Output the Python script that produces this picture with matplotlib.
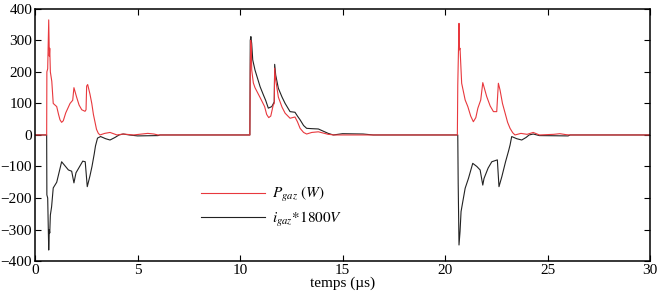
import numpy as np
import matplotlib.pyplot as plt

plt.rcParams['font.family'] = ['Liberation Serif', 'DejaVu Serif']
plt.rcParams['mathtext.fontset'] = 'stix'

# P_gaz (W) : temps (us), puissance
t_p = [0, 0.57, 0.58, 0.62, 0.67, 0.70, 0.72, 0.75, 0.82, 0.89, 1.06, 1.15, 1.22, 1.30, 1.38, 1.50,
       1.71, 1.84, 1.90, 2.03, 2.15, 2.28, 2.44, 2.49, 2.52, 2.57, 2.68, 2.77, 2.85, 2.93, 3.0,
       3.09, 3.17, 3.40, 3.66, 4.0, 4.3, 4.8, 5.5, 5.8, 6.0,
       10.48, 10.50, 10.52, 10.55, 10.57, 10.65, 10.73, 11.0, 11.2, 11.3, 11.4, 11.5, 11.62, 11.67,
       11.69, 11.74, 11.87, 12.05, 12.2, 12.44, 12.68, 12.8, 12.93, 13.1, 13.25, 13.5, 13.82, 14.3,
       14.6,
       20.6, 20.62, 20.68, 20.70, 20.73, 20.81, 20.98, 21.11, 21.25, 21.38, 21.5, 21.6, 21.74, 21.84,
       22.03, 22.2, 22.36, 22.52, 22.6, 22.68, 22.8, 22.93, 23.05, 23.17, 23.3, 23.41, 23.7, 24.0,
       24.3, 24.6, 25.3, 25.6, 25.9, 26.1, 30]
p_gaz = [0, 0, 200, 210, 365, 250, 275, 200, 170, 100, 90, 65, 48, 40, 45, 70,
         100, 110, 150, 120, 95, 80, 75, 80, 155, 160, 130, 100, 65, 40, 18,
         5, 0, 5, 8, 0, 3, 0, 5, 3, 0,
         0, 200, 300, 280, 206, 165, 150, 116, 90, 65, 55, 60, 95, 100,
         212, 175, 120, 88, 69, 53, 57, 42, 21, 8, 3, 8, 10, 2,
         0,
         0, 159, 354, 270, 275, 164, 111, 90, 60, 42, 55, 85, 111, 166,
         122, 92, 74, 74, 164, 143, 100, 69, 40, 21, 7, 0, 5, 2,
         8, 0, 2, 4, 1, 0, 0]

# i_gaz * 1800 V
t_i = [0, 0.57, 0.58, 0.62, 0.67, 0.70, 0.72, 0.75, 0.81, 0.89, 1.06, 1.30, 1.63, 1.79, 1.90, 2.0,
       2.33, 2.45, 2.55, 2.68, 2.78, 2.89, 2.95, 3.05, 3.2, 3.45, 3.66, 3.9, 4.1, 4.3, 4.6, 5.0,
       6.0, 6.1,
       10.48, 10.50, 10.53, 10.57, 10.62, 10.73, 10.98, 11.14, 11.25, 11.38, 11.55, 11.63, 11.67,
       11.69, 11.74, 11.87, 12.05, 12.2, 12.44, 12.68, 12.8, 12.93, 13.1, 13.25, 13.5, 13.82, 14.3,
       14.55, 15.0, 16.0, 16.5,
       20.62, 20.64, 20.68, 20.73, 20.78, 20.85, 20.98, 21.14, 21.35, 21.55, 21.71, 21.84, 21.9,
       22.1, 22.28, 22.55, 22.63, 22.77, 22.95, 23.1, 23.17, 23.25, 23.5, 23.74, 23.95, 24.1, 24.3,
       24.6, 26.0, 26.1, 30]
i_gaz = [0, 0, -190, -200, -365, -300, -311, -254, -228, -168, -150, -85, -111, -115, -152, -120,
         -83, -85, -164, -130, -100, -60, -35, -10, -5, -12, -16, -8, 0, 3, 0, -3,
         -2, 0,
         0, 300, 312, 290, 238, 206, 153, 127, 110, 85, 90, 100, 105,
         224, 190, 148, 120, 100, 74, 72, 60, 48, 30, 21, 20, 19, 5,
         0, 4, 3, 0,
         0, -153, -349, -307, -243, -217, -169, -138, -90, -100, -111, -159, -138,
         -105, -85, -79, -164, -132, -85, -50, -32, -5, -12, -16, -8, 0, 3,
         -2, -3, 0, 0]

fig = plt.figure(figsize=(6.6, 2.95), dpi=100)
ax = fig.add_axes([0.053, 0.115, 0.932, 0.855])

ax.plot(t_i, i_gaz, color='#222222', lw=0.8, label=r'$i_{gaz}\mathit{{*}1800V}$')
ax.plot(t_p, p_gaz, color='#e8383d', lw=0.8, label=r'$P_{gaz}\ (W)$')

ax.set_xlim(0, 30)
ax.set_ylim(-400, 400)
ax.set_xticks(np.arange(0, 31, 5))
ax.set_yticks(np.arange(-400, 401, 100))
ax.tick_params(direction='in', top=True, right=True, labelsize=11, length=4, width=0.8, pad=2)
for s in ax.spines.values():
    s.set_linewidth(1.1)
ax.set_xlabel('temps (µs)', fontsize=11, labelpad=0)

h, l = ax.get_legend_handles_labels()
ax.legend(h[::-1], l[::-1], loc='upper left', bbox_to_anchor=(0.247, 0.355), frameon=False,
          fontsize=11, handlelength=4.2, handletextpad=0.45, labelspacing=0.35)

fig.savefig('out.png', dpi=100)
